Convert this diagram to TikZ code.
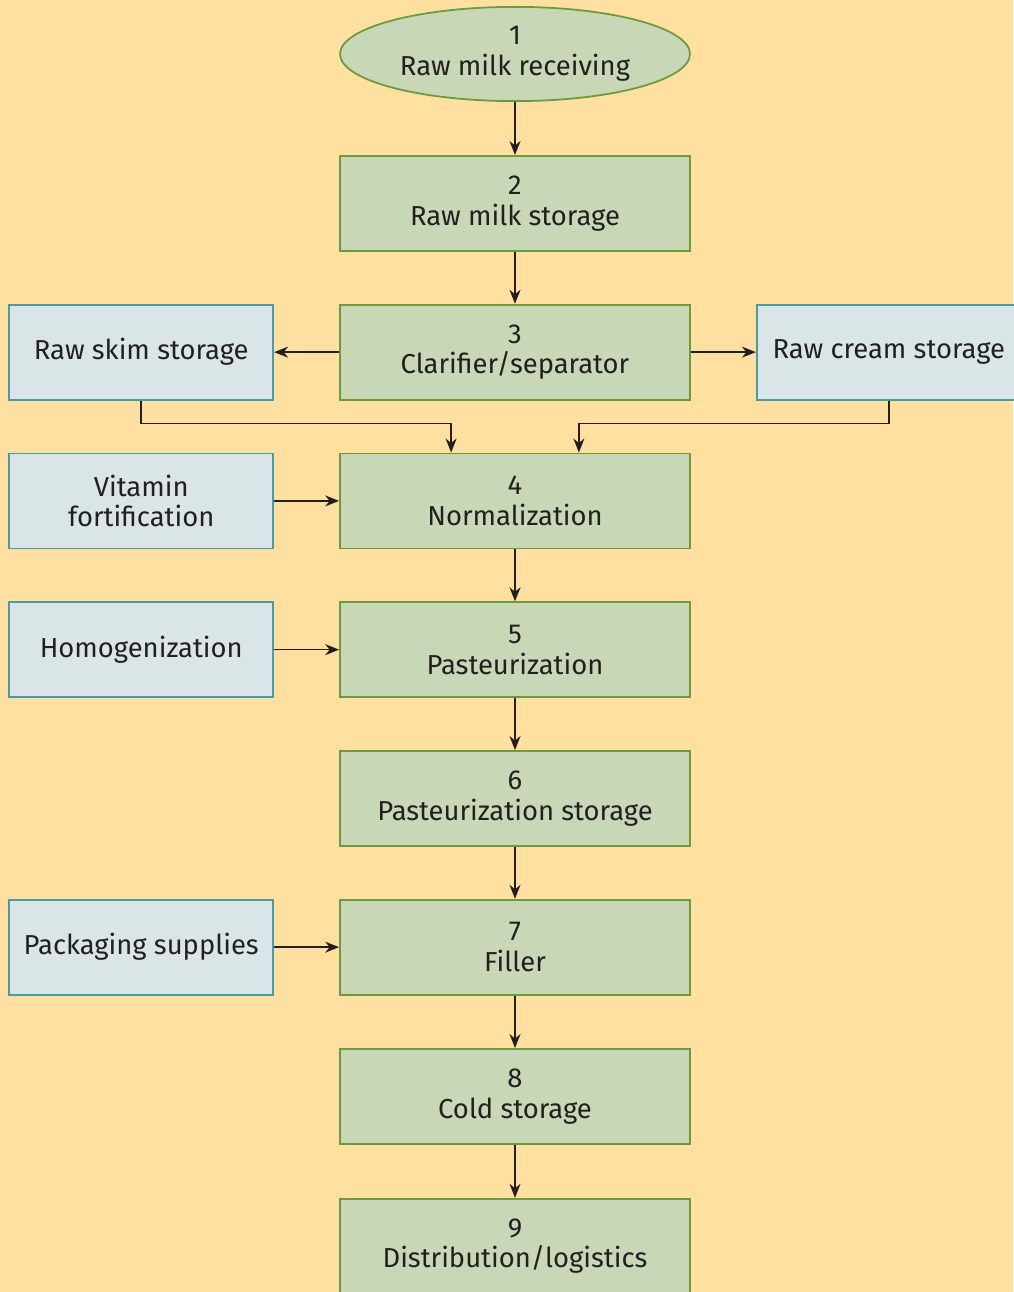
\documentclass[tikz,border=0pt]{standalone}
\usepackage{fontspec}
\setmainfont{Fira Sans}
\usetikzlibrary{shapes,positioning,calc,arrows.meta}
\definecolor{bgcolor}{HTML}{FFE0A0}
\definecolor{stepfill}{HTML}{C8D7B6}
\definecolor{stepdraw}{HTML}{6B9B3A}
\definecolor{sidefill}{HTML}{DAE5E7}
\definecolor{sidedraw}{HTML}{4E9AA3}
\definecolor{inkcolor}{HTML}{231F20}

\begin{document}
\begin{tikzpicture}[
  stepbox/.style={rectangle, draw=stepdraw, fill=stepfill, line width=1pt, minimum width=7cm, minimum height=1.9cm, align=center, text=inkcolor, font=\fontsize{15.6}{17.5}\selectfont},
  sidebox/.style={rectangle, draw=sidedraw, fill=sidefill, line width=1pt, minimum width=5.28cm, minimum height=1.9cm, align=center, text=inkcolor, font=\fontsize{15.6}{17.5}\selectfont},
  flow/.style={-{Stealth[length=2.8mm,width=2.2mm]}, draw=inkcolor, line width=0.95pt}]

% BACKGROUND

\fill[bgcolor] (0,0) rectangle (20.26,-25.84);
\useasboundingbox (0,0) rectangle (20.26,-25.84);

% MAIN LINE

\node [ellipse, draw=stepdraw, fill=stepfill, line width=1pt, minimum width=7cm, minimum height=1.88cm, align=center, text=inkcolor, font=\fontsize{15.6}{17.5}\selectfont] (receiving) at (10.3,-1.08)
{1\\Raw milk receiving};

\node [stepbox, below=1.06cm of receiving] (rawstorage)
{2\\Raw milk storage};

\node [stepbox, below=1.04cm of rawstorage] (separator)
{3\\Clarifier/separator};

\node [stepbox, below=1.04cm of separator] (normalization)
{4\\Normalization};

\node [stepbox, below=1.04cm of normalization] (pasteurization)
{5\\Pasteurization};

\node [stepbox, below=1.04cm of pasteurization] (paststorage)
{6\\Pasteurization storage};

\node [stepbox, below=1.04cm of paststorage] (filler)
{7\\Filler};

\node [stepbox, below=1.05cm of filler] (coldstorage)
{8\\Cold storage};

\node [stepbox, below=1.06cm of coldstorage] (distribution)
{9\\Distribution/logistics};

% SIDE INPUTS

\node [sidebox, left=1.3cm of separator] (skim) {Raw skim storage};
\node [sidebox, right=1.3cm of separator] (cream) {Raw cream storage};
\node [sidebox, left=1.3cm of normalization] (vitamin) {Vitamin\\fortification};
\node [sidebox, left=1.3cm of pasteurization] (homogen) {Homogenization};
\node [sidebox, left=1.3cm of filler] (packaging) {Packaging supplies};

% FLOWS

\draw [flow] (receiving) -- (rawstorage);
\draw [flow] (rawstorage) -- (separator);
\draw [flow] (separator) -- (skim);
\draw [flow] (separator) -- (cream);
\draw [flow] (skim.south) -- ++(0,-0.46) -| ([xshift=2.24cm]normalization.north west);
\draw [flow] (cream.south) -- ++(0,-0.46) -| ([xshift=-2.24cm]normalization.north east);
\draw [flow] (vitamin) -- (normalization);
\draw [flow] (normalization) -- (pasteurization);
\draw [flow] (homogen) -- (pasteurization);
\draw [flow] (pasteurization) -- (paststorage);
\draw [flow] (paststorage) -- (filler);
\draw [flow] (packaging) -- (filler);
\draw [flow] (filler) -- (coldstorage);
\draw [flow] (coldstorage) -- (distribution);

\end{tikzpicture}
\end{document}
